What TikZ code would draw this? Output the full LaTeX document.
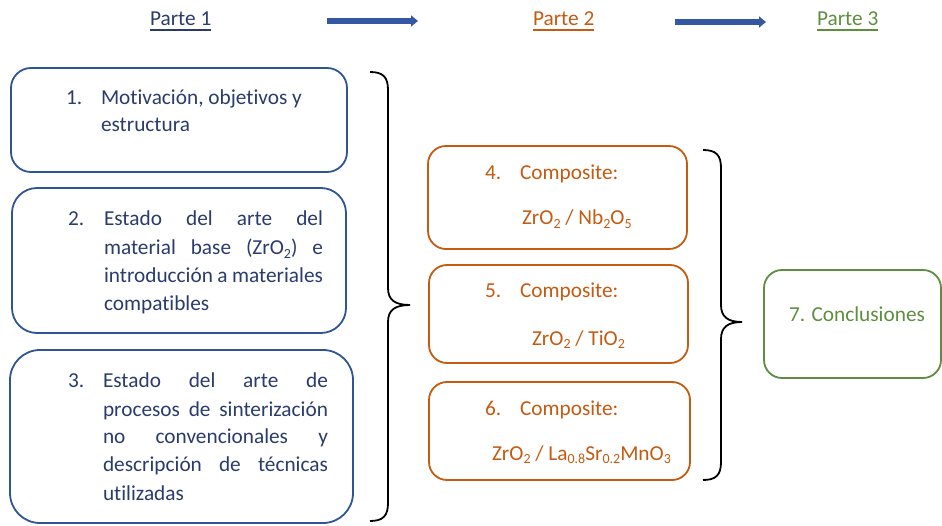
\documentclass[tikz,border=0pt]{standalone}
\usepackage{fontspec}
\setmainfont{Carlito}[Ligatures=NoCommon]
\usetikzlibrary{arrows.meta,calc}
\definecolor{navy}{HTML}{2B3C6B}
\definecolor{bborder}{HTML}{2F5597}
\definecolor{orng}{HTML}{C55A11}
\definecolor{grn}{HTML}{5E8E3E}
\definecolor{arrblue}{HTML}{3558A2}
\newcommand{\sbs}[1]{\raisebox{-0.18em}{\fontsize{14}{14}\selectfont #1}}
\begin{document}
\begin{tikzpicture}[x=1pt,y=-1pt,
  every node/.style={inner sep=0pt, outer sep=0pt, font=\fontsize{21.3}{28}\selectfont},
  txt/.style={anchor=base west},
  boxshape/.style={line width=1.8pt, anchor=north west},
  boxb/.style={boxshape, draw=bborder},
  boxo/.style={boxshape, draw=orng, rounded corners=18pt},
  boxg/.style={boxshape, draw=grn, rounded corners=18pt},
  bigarrow/.style={draw=arrblue, line width=6pt, -{Triangle[length=7pt,width=11pt]}},
  bracestyle/.style={draw=black, line width=1.8pt},
  uline/.style={line width=1.5pt}]
\useasboundingbox (0,0) rectangle (942,526);

% header
\node[txt, text=navy] (p1) at (150,26) {Parte 1};
\node[txt, text=orng] (p2) at (533,26) {Parte 2};
\node[txt, text=grn] (p3) at (817,26) {Parte 3};
\draw[uline, navy] ($(p1.base west)+(0,4)$) -- ($(p1.base east)+(0,4)$);
\draw[uline, orng] ($(p2.base west)+(0,4)$) -- ($(p2.base east)+(0,4)$);
\draw[uline, grn] ($(p3.base west)+(0,4)$) -- ($(p3.base east)+(0,4)$);
\coordinate (a1s) at (327,21);
\coordinate (a1e) at (418,21);
\coordinate (a2s) at (675,22);
\coordinate (a2e) at (766,22);
\draw[bigarrow] (a1s) -- (a1e);
\draw[bigarrow] (a2s) -- (a2e);

% Part 1 boxes
\node[boxb, rounded corners=20pt, minimum width=336pt, minimum height=104pt] (b1) at (11,68) {};
\node[boxb, rounded corners=25pt, minimum width=334pt, minimum height=145pt] (b2) at (12,188) {};
\node[boxb, rounded corners=30pt, minimum width=343pt, minimum height=173pt] (b3) at (10,350) {};

\node[txt, text=navy] (n1) at (66,105) {1.};
\node[txt, text=navy] (t1a) at (101,105) {Motivación, objetivos y};
\node[txt, text=navy] (t1b) at (101,132) {estructura};

\node[txt, text=navy] (n2) at (68,226) {2.};
\node[txt, text=navy] (t2a) at (104,226) {\makebox[219pt][s]{Estado del arte del}};
\node[txt, text=navy] (t2b) at (104,255) {\makebox[219pt][s]{material base (ZrO\sbs{2}) e}};
\node[txt, text=navy] (t2c) at (104,283) {\makebox[219pt][s]{introducción a materiales}};
\node[txt, text=navy] (t2d) at (104,311) {compatibles};

\node[txt, text=navy] (n3) at (68,388) {3.};
\node[txt, text=navy] (t3a) at (103,388) {\makebox[225pt][s]{Estado del arte de}};
\node[txt, text=navy] (t3b) at (103,416) {\makebox[225pt][s]{procesos de sinterización}};
\node[txt, text=navy] (t3c) at (103,443) {\makebox[225pt][s]{no convencionales y}};
\node[txt, text=navy] (t3d) at (103,471) {\makebox[225pt][s]{descripción de técnicas}};
\node[txt, text=navy] (t3e) at (103,500) {utilizadas};

% brace 1
\draw[bracestyle] (370,72) .. controls (383,72) and (388,77) .. (388,90) -- (388,288)
  .. controls (388,300) and (395,305) .. (410,305)
  .. controls (395,305) and (388,310) .. (388,322) -- (388,503)
  .. controls (388,516) and (383,521) .. (370,521);

% Part 2 boxes
\node[boxo, minimum width=259pt, minimum height=103pt] (b4) at (428,146) {};
\node[boxo, minimum width=259pt, minimum height=98pt] (b5) at (429,265) {};
\node[boxo, minimum width=261pt, minimum height=98pt] (b6) at (429,382) {};

\node[txt, text=orng] (n4) at (485,180) {4.};
\node[txt, text=orng] (c4) at (520,180) {Composite:};
\node[txt, text=orng] (f4) at (522,225) {ZrO\sbs{2} / Nb\sbs{2}O\sbs{5}};
\node[txt, text=orng] (n5) at (485,298) {5.};
\node[txt, text=orng] (c5) at (520,298) {Composite:};
\node[txt, text=orng] (f5) at (532,345) {ZrO\sbs{2} / TiO\sbs{2}};
\node[txt, text=orng] (n6) at (485,415) {6.};
\node[txt, text=orng] (c6) at (520,415) {Composite:};
\node[txt, text=orng] (f6) at (492,460) {ZrO\sbs{2} / La\sbs{0.8}Sr\sbs{0.2}MnO\sbs{3}};

% brace 2
\draw[bracestyle] (703,150) .. controls (716,150) and (721,155) .. (721,168) -- (721,305)
  .. controls (721,317) and (728,322) .. (742,322)
  .. controls (728,322) and (721,327) .. (721,339) -- (721,462)
  .. controls (721,475) and (716,480) .. (703,480);

% Part 3
\node[boxg, minimum width=177pt, minimum height=108pt] (b7) at (764,270) {};
\node[txt, text=grn] (t7) at (789,322) {7. Conclusiones};
\end{tikzpicture}
\end{document}
